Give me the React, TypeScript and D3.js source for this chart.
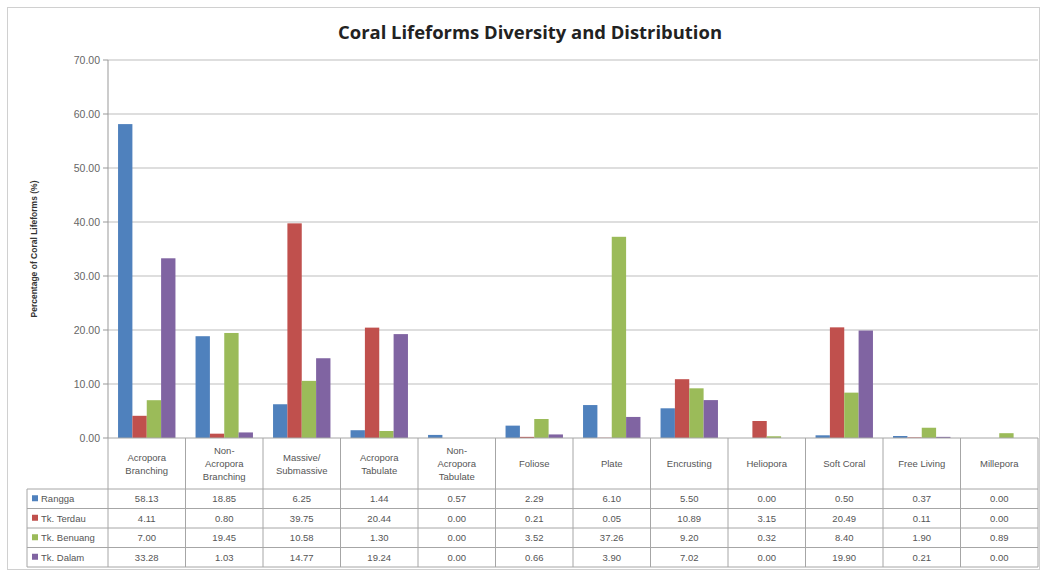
import React from 'react';
import * as d3 from 'd3';

const categories = [
  ['Acropora', 'Branching'],
  ['Non-', 'Acropora', 'Branching'],
  ['Massive/', 'Submassive'],
  ['Acropora', 'Tabulate'],
  ['Non-', 'Acropora', 'Tabulate'],
  ['Foliose'],
  ['Plate'],
  ['Encrusting'],
  ['Heliopora'],
  ['Soft Coral'],
  ['Free Living'],
  ['Millepora'],
];

const seriesNames = ['Rangga', 'Tk. Terdau', 'Tk. Benuang', 'Tk. Dalam'];
const rangga = [58.13, 18.85, 6.25, 1.44, 0.57, 2.29, 6.1, 5.5, 0.0, 0.5, 0.37, 0.0];
const terdau = [4.11, 0.8, 39.75, 20.44, 0.0, 0.21, 0.05, 10.89, 3.15, 20.49, 0.11, 0.0];
const benuang = [7.0, 19.45, 10.58, 1.3, 0.0, 3.52, 37.26, 9.2, 0.32, 8.4, 1.9, 0.89];
const dalam = [33.28, 1.03, 14.77, 19.24, 0.0, 0.66, 3.9, 7.02, 0.0, 19.9, 0.21, 0.0];
const seriesValues = [rangga, terdau, benuang, dalam];
const colors = ['#4F81BD', '#C0504D', '#9BBB59', '#8064A2'];
const yTicks = [0, 10, 20, 30, 40, 50, 60, 70];

const W = 1044;
const H = 572;
const left = 108;
const right = 1038;
const top = 60;
const base = 438;
const labelRowBottom = 489;
const rowH = 19.5;
const tableLeft = 27;
const font = '"Liberation Sans", Arial, sans-serif';

export default function App() {
  const idx = categories.map((_, i) => i);
  const x = d3.scaleBand<number>().domain(idx).range([left, right]).paddingInner(0).paddingOuter(0);
  const x1 = d3.scaleBand<number>().domain([0, 1, 2, 3]).range([0, x.bandwidth()]).paddingInner(0).paddingOuter(0.7);
  const y = d3.scaleLinear().domain([0, 70]).range([base, top]);
  const tableBottom = labelRowBottom + rowH * seriesNames.length;

  return (
    <svg width={W} height={H} style={{ position: 'absolute', left: 0, top: 0 }}>
      <rect x={0} y={0} width={W} height={H} fill="#fff" />
      <rect x={7.5} y={7.5} width={1032} height={562} fill="none" stroke="#d0d0d0" />
      <text x={530} y={39} textAnchor="middle" fontFamily='"Open Sans", sans-serif' fontWeight="bold" fontSize={18} fill="#222"
        textLength={384} lengthAdjust="spacingAndGlyphs">
        Coral Lifeforms Diversity and Distribution
      </text>
      <text
        transform={`translate(37,${(top + base) / 2}) rotate(-90)`}
        textAnchor="middle"
        fontFamily={font}
        fontWeight="bold"
        fontSize={8.5}
        fill="#333"
      >
        Percentage of Coral Lifeforms (%)
      </text>
      {/* gridlines and y axis */}
      {yTicks.map((t) => (
        <g key={t}>
          {t > 0 && <line x1={left} x2={right} y1={y(t)} y2={y(t)} stroke="#bdbdbd" strokeWidth={1} />}
          <line x1={left - 5} x2={left} y1={y(t)} y2={y(t)} stroke="#999" />
          <text x={100} y={y(t) + 3.5} textAnchor="end" fontFamily={font} fontSize={10.5} fill="#666">
            {t.toFixed(2)}
          </text>
        </g>
      ))}
      <line x1={left} x2={left} y1={top} y2={base} stroke="#999" />
      {/* bars */}
      {seriesValues.map((vals, s) =>
        vals.map((v, i) => (
          <rect
            key={`${s}-${i}`}
            x={(x(i) as number) + (x1(s) as number)}
            y={y(v)}
            width={x1.bandwidth()}
            height={base - y(v)}
            fill={colors[s]}
          />
        ))
      )}
      {/* data table */}
      <g stroke="#a6a6a6" strokeWidth={1} fill="none">
        <line x1={left} x2={right} y1={base} y2={base} />
        {[0, 1, 2, 3, 4].map((r) => (
          <line key={r} x1={tableLeft} x2={right} y1={labelRowBottom + r * rowH} y2={labelRowBottom + r * rowH} />
        ))}
        <line x1={tableLeft} x2={tableLeft} y1={labelRowBottom} y2={tableBottom} />
        {idx.concat([categories.length]).map((i) => {
          const xx = i < categories.length ? (x(i) as number) : right;
          return <line key={i} x1={xx} x2={xx} y1={base} y2={tableBottom} />;
        })}
      </g>
      {categories.map((lines, i) => {
        const cx = (x(i) as number) + x.bandwidth() / 2;
        const y0 = 467 - ((lines.length - 1) * 13) / 2;
        return (
          <text key={i} textAnchor="middle" fontFamily={font} fontSize={9.5} fill="#555">
            {lines.map((ln, k) => (
              <tspan key={k} x={cx} y={y0 + k * 13}>
                {ln}
              </tspan>
            ))}
          </text>
        );
      })}
      {seriesNames.map((name, s) => {
        const cy = labelRowBottom + s * rowH + rowH / 2;
        return (
          <g key={name}>
            <rect x={32} y={cy - 3.5} width={6} height={6} fill={colors[s]} />
            <text x={41} y={cy + 3.5} fontFamily={font} fontSize={9.5} fill="#555">
              {name}
            </text>
            {seriesValues[s].map((v, i) => (
              <text
                key={i}
                x={(x(i) as number) + x.bandwidth() / 2}
                y={cy + 3.5}
                textAnchor="middle"
                fontFamily={font}
                fontSize={9.5}
                fill="#555"
              >
                {v.toFixed(2)}
              </text>
            ))}
          </g>
        );
      })}
    </svg>
  );
}
